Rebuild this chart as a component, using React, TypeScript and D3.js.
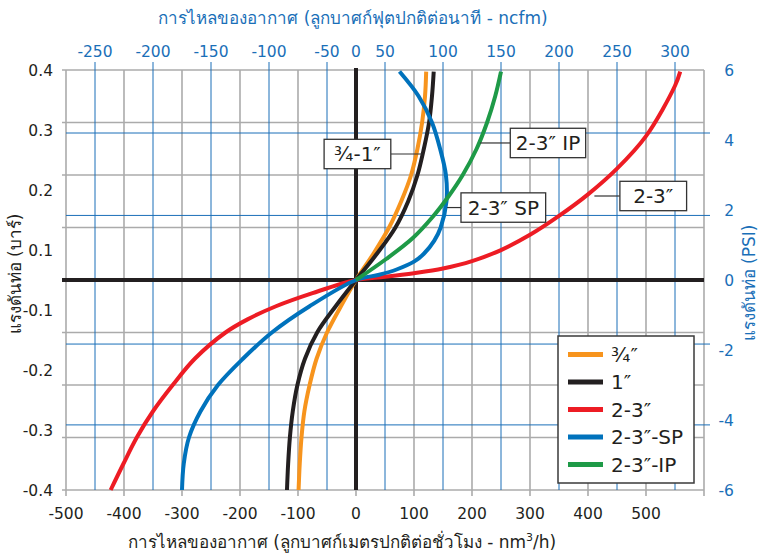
import React from "react";
import * as d3 from "d3";

// flow in nm3/h, pressure in bar
const flowTicks = [-500, -400, -300, -200, -100, 0, 100, 200, 300, 400, 500, 600];
const flowLabels = [-500, -400, -300, -200, -100, 0, 100, 200, 300, 400, 500];
const barTicks = [-0.4, -0.3, -0.2, -0.1, 0, 0.1, 0.2, 0.3, 0.4];
const barLabels = ["0.4", "0.3", "0.2", "0.1", "-0.1", "-0.2", "-0.3", "-0.4"];
const psiLabels = [6, 4, 2, 0, -2, -4, -6];
// blue PSI grid lines (4, 2, -2, -4 psi) as read in bar
const psiGridBar = [0.28, 0.123, -0.122, -0.276];
// top axis: ncfm labels and where they sit on the nm3/h scale
const ncfmLabels = [-250, -200, -150, -100, -50, 0, 50, 100, 150, 200, 250, 300];
const ncfmAt = [-450, -350, -250, -150, -50, 0, 50, 150, 250, 350, 450, 550];

const threeQuarter: [number, number][] = [
  [-99, -0.4], [-97, -0.35], [-94, -0.3], [-89, -0.25], [-80, -0.2], [-68, -0.15], [-50, -0.1],
  [-26, -0.05], [0, 0], [30, 0.05], [57, 0.1], [78, 0.15], [95, 0.2], [106, 0.25], [114, 0.3],
  [119, 0.35], [121, 0.397],
];
const oneInch: [number, number][] = [
  [-119, -0.4], [-117, -0.35], [-114, -0.3], [-109, -0.25], [-101, -0.2], [-88, -0.15], [-67, -0.1],
  [-35, -0.05], [0, 0], [36, 0.05], [68, 0.1], [90, 0.15], [106, 0.2], [117, 0.25], [126, 0.3],
  [131, 0.35], [134, 0.397],
];
const twoThree: [number, number][] = [
  [-423, -0.4], [-401, -0.35], [-378, -0.3], [-350, -0.25], [-316, -0.2], [-278, -0.15], [-225, -0.1],
  [-187, -0.075], [-138, -0.05], [-75, -0.025], [0, 0], [50, 0.006], [100, 0.013], [150, 0.022],
  [200, 0.036], [250, 0.057], [300, 0.086], [350, 0.122], [400, 0.163], [450, 0.212], [500, 0.274],
  [550, 0.37], [559, 0.397],
];
const twoThreeSP: [number, number][] = [
  [-300, -0.4], [-297, -0.35], [-288, -0.3], [-268, -0.25], [-238, -0.2], [-195, -0.15], [-145, -0.1],
  [-80, -0.05], [0, 0], [40, 0.01], [70, 0.02], [100, 0.035], [117, 0.05], [135, 0.075], [146, 0.1],
  [156, 0.15], [155, 0.2], [145, 0.25], [131, 0.3], [108, 0.35], [75, 0.397],
];
const twoThreeIP: [number, number][] = [
  [0, 0], [52, 0.04], [98, 0.08], [132, 0.12], [160, 0.16], [184, 0.2], [208, 0.25], [226, 0.3],
  [240, 0.35], [250, 0.397],
];

const seriesNames = ["¾″", "1″", "2-3″", "2-3″-SP", "2-3″-IP"];
const seriesColors = ["#f7941d", "#231f20", "#ed1c24", "#0072bc", "#1e9a47"];
const seriesData = [threeQuarter, oneInch, twoThree, twoThreeSP, twoThreeIP];

// callouts: text, point on curve, box left/right in flow units
const callouts = [
  { text: "¾-1″", at: [114, 0.24], box: [-55, 60] },
  { text: "2-3″ IP", at: [214, 0.261], box: [266, 396] },
  { text: "2-3″ SP", at: [157, 0.138], box: [181, 327] },
  { text: "2-3″", at: [411, 0.16], box: [455, 570] },
];

const FONT = "Tahoma, 'DejaVu Sans', 'Noto Sans', sans-serif";
const BLUE = "#1a6fb8";
const GRID = "#ababab";

export default function App() {
  const x = d3.scaleLinear().domain([-500, 600]).range([66, 704]);
  const y = d3.scaleLinear().domain([-0.4, 0.4]).range([490, 70]);
  const yLab = d3.scalePoint<string>().domain(barLabels).range([70, 490]);
  const yPsi = d3.scaleLinear().domain([-6, 6]).range([490, 70]);
  const line = d3
    .line<[number, number]>()
    .x((d) => x(d[0]))
    .y((d) => y(d[1]))
    .curve(d3.curveCatmullRom.alpha(0.5));

  const [x0, x1] = x.range();
  const [y0, y1] = [y(0.4), y(-0.4)];

  return (
    <svg width={760} height={556} style={{ position: "absolute", left: 0, top: 0, fontFamily: FONT }}>
      <rect width={760} height={556} fill="#fff" />
      {/* gray grid */}
      {flowTicks.map((t) => (
        <line key={"gx" + t} x1={x(t)} x2={x(t)} y1={y0} y2={y1 + 6} stroke={GRID} strokeWidth={1.6} />
      ))}
      {barTicks.map((t) => (
        <line key={"gy" + t} x1={x0 - 4} x2={x1} y1={y(t)} y2={y(t)} stroke={GRID} strokeWidth={1.6} />
      ))}
      {/* blue grid */}
      {ncfmAt.filter((v) => v !== 0).map((v) => (
        <line key={"bx" + v} x1={x(v)} x2={x(v)} y1={y0 - 8} y2={y1} stroke={BLUE} strokeWidth={1} />
      ))}
      {psiGridBar.map((v) => (
        <line key={"by" + v} x1={x0} x2={x1 + 6} y1={y(v)} y2={y(v)} stroke={BLUE} strokeWidth={1} />
      ))}
      {/* zero lines */}
      <line x1={x0 - 4} x2={x1} y1={y(0)} y2={y(0)} stroke="#231f20" strokeWidth={4} />
      <line x1={x(0)} x2={x(0)} y1={y0 - 2} y2={y1} stroke="#231f20" strokeWidth={4} />

      {/* curves */}
      {seriesData.map((d, i) => (
        <path key={i} d={line(d) || ""} fill="none" stroke={seriesColors[i]} strokeWidth={4} />
      ))}

      {/* callouts */}
      {callouts.map((c) => {
        const cy = y(c.at[1]);
        const bx0 = x(c.box[0]);
        const bx1 = x(c.box[1]);
        return (
          <g key={c.text}>
            <line x1={x(c.at[0])} x2={bx0 < x(c.at[0]) ? bx1 : bx0} y1={cy} y2={cy} stroke="#333" strokeWidth={1.2} />
            <rect x={bx0} y={cy - 14.7} width={bx1 - bx0} height={29.4} fill="#fff" stroke="#333" strokeWidth={1.3} />
            <text x={(bx0 + bx1) / 2} y={cy + 7} textAnchor="middle" fontSize={20} fill="#231f20">
              {c.text}
            </text>
          </g>
        );
      })}

      {/* left axis labels */}
      {barLabels.map((l) => (
        <text key={l} x={53} y={(yLab(l) as number) + 5.5} textAnchor="end" fontSize={15.5} fill="#231f20">
          {l}
        </text>
      ))}
      {/* bottom axis labels */}
      {flowLabels.map((t) => (
        <text key={t} x={x(t)} y={519} textAnchor="middle" fontSize={15.5} fill="#231f20">
          {t}
        </text>
      ))}
      {/* top axis labels */}
      {ncfmLabels.map((t, i) => (
        <text key={t} x={x(ncfmAt[i])} y={57} textAnchor="middle" fontSize={15.5} fill={BLUE}>
          {t}
        </text>
      ))}
      {/* right axis labels */}
      {psiLabels.map((t) => (
        <text key={t} x={734} y={yPsi(t) + 5.5} textAnchor="end" fontSize={15.5} fill={BLUE}>
          {t}
        </text>
      ))}

      {/* titles */}
      <text x={353} y={24} textAnchor="middle" fontSize={17} fill={BLUE}>
        การไหลของอากาศ (ลูกบาศก์ฟุตปกติต่อนาที - ncfm)
      </text>
      <text x={342} y={548} textAnchor="middle" fontSize={17} fill="#231f20">
        การไหลของอากาศ (ลูกบาศก์เมตรปกติต่อชั่วโมง - nm<tspan fontSize={11} dy={-7}>3</tspan>
        <tspan dy={7}>/h)</tspan>
      </text>
      <text transform="translate(21,274) rotate(-90)" textAnchor="middle" fontSize={17} fill="#231f20">
        แรงดันท่อ (บาร์)
      </text>
      <text transform="translate(755,283) rotate(-90)" textAnchor="middle" fontSize={17} fill={BLUE}>
        แรงดันท่อ (PSI)
      </text>

      {/* legend */}
      <g>
        <rect x={558} y={336} width={136} height={147} fill="#fff" stroke="#3a3a3a" strokeWidth={1.5} />
        {seriesNames.map((n, i) => {
          const ly = 354.5 + i * 27.5;
          return (
            <g key={n}>
              <line x1={568} x2={603} y1={ly} y2={ly} stroke={seriesColors[i]} strokeWidth={5} />
              <text x={611} y={ly + 7} fontSize={20} fill="#231f20">
                {n}
              </text>
            </g>
          );
        })}
      </g>
    </svg>
  );
}
